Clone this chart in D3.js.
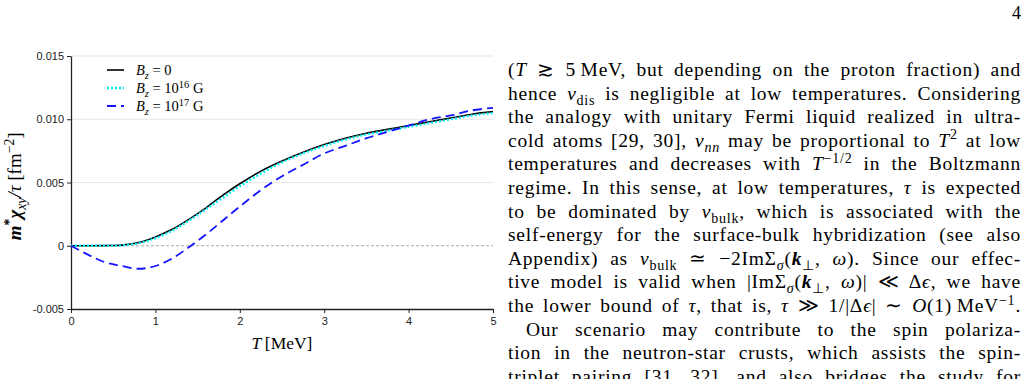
<!DOCTYPE html>
<html>
<head>
<meta charset="utf-8">
<script src="https://cdn.jsdelivr.net/npm/d3@7"></script>
<style>
body { margin: 0; background: #fff; }
svg { display: block; }
.tick text { font-family: "Liberation Sans", Arial, sans-serif; font-size: 11px; fill: #222; }
.serif { font-family: "Liberation Serif", "Times New Roman", serif; fill: #000; }
</style>
</head>
<body>
<svg width="1030" height="379"></svg>
<script>
// temperature grid [MeV] and m* chi_xy / tau [fm^-2]
var temps = [0, 0.2, 0.4, 0.6, 0.8, 1.0, 1.2, 1.4, 1.6, 1.8, 2.0, 2.25, 2.5, 2.75, 3.0, 3.25, 3.5, 3.75, 4.0, 4.25, 4.5, 4.75, 5.0];
var chiB0 = [0, 0, 0.00001, 0.00005, 0.00025, 0.0007, 0.0013, 0.0021, 0.0030, 0.0040, 0.0049, 0.0059, 0.0067, 0.0074, 0.0080, 0.0085, 0.0089, 0.0092, 0.0095, 0.0098, 0.0101, 0.0104, 0.0106];
var chiB16 = [0, 0, 0.000005, 0.00003, 0.0002, 0.0006, 0.0012, 0.0020, 0.0029, 0.0038, 0.0047, 0.0057, 0.0066, 0.0073, 0.0079, 0.0084, 0.0088, 0.0091, 0.0094, 0.0097, 0.0100, 0.0103, 0.0105];
var chiB17 = [0, -0.0007, -0.0013, -0.0016, -0.00182, -0.0016, -0.0010, -0.0001, 0.0009, 0.0020, 0.0031, 0.0044, 0.0055, 0.0064, 0.0073, 0.0079, 0.0085, 0.0090, 0.0095, 0.0100, 0.0103, 0.0107, 0.0109];

var xTicks = [0, 1, 2, 3, 4, 5];
var yTicks = [-0.005, 0, 0.005, 0.010, 0.015];
var yTickLabels = ["-0.005", "0", "0.005", "0.010", "0.015"];
var gridValues = [0.005, 0.010, 0.015];

var seriesNames = ["B0", "B16", "B17"];
var legendExp = [null, "16", "17"];

// body text of the page column (segments: [text, style])
var bodyLines = [
  [["(", ""], ["T", "i"], [" \u2273 5\u2009MeV, but depending on the proton fraction) and", ""]],
  [["hence ", ""], ["\u03bd", "i"], ["dis", "_"], [" is negligible at low temperatures. Considering", ""]],
  [["the analogy with unitary Fermi liquid realized in ultra-", ""]],
  [["cold atoms [29, 30], ", ""], ["\u03bd", "i"], ["nn", "_i"], [" may be proportional to ", ""], ["T", "i"], ["2", "^"], [" at low", ""]],
  [["temperatures and decreases with ", ""], ["T", "i"], ["\u22121/2", "^"], [" in the Boltzmann", ""]],
  [["regime. In this sense, at low temperatures, ", ""], ["\u03c4", "i"], [" is expected", ""]],
  [["to be dominated by ", ""], ["\u03bd", "i"], ["bulk", "_"], [", which is associated with the", ""]],
  [["self-energy for the surface-bulk hybridization (see also", ""]],
  [["Appendix) as ", ""], ["\u03bd", "i"], ["bulk", "_"], [" \u2243 \u22122Im\u03a3", ""], ["\u03c3", "_i"], ["(", ""], ["k", "bi"], ["\u22a5", "_"], [", ", ""], ["\u03c9", "i"], ["). Since our effec-", ""]],
  [["tive model is valid when |Im\u03a3", ""], ["\u03c3", "_i"], ["(", ""], ["k", "bi"], ["\u22a5", "_"], [", ", ""], ["\u03c9", "i"], [")| \u226a \u0394", ""], ["\u03f5", "i"], [", we have", ""]],
  [["the lower bound of ", ""], ["\u03c4", "i"], [", that is, ", ""], ["\u03c4", "i"], [" \u226b 1/|\u0394", ""], ["\u03f5", "i"], ["| \u223c ", ""], ["O", "i"], ["(1)\u2009MeV", ""], ["\u22121", "^"], [".", ""]],
  [["Our scenario may contribute to the spin polariza-", ""]],
  [["tion in the neutron-star crusts, which assists the spin-", ""]],
  [["triplet pairing [31, 32], and also bridges the study for", ""]]
];

var svg = d3.select("svg"),
    margin = {top: 56, left: 71, right: 537, bottom: 70},
    width = 1030 - margin.left - margin.right,
    height = 379 - margin.top - margin.bottom;

svg.append("rect").attr("width", 1030).attr("height", 379).attr("fill", "#fff");

var g = svg.append("g").attr("transform", "translate(" + margin.left + "," + margin.top + ")");

var x = d3.scaleLinear().domain([0, 5]).range([0, width]),
    y = d3.scaleLinear().domain([-0.005, 0.015]).range([height, 0]);

// draws a list of [text, style] segments into a text element
function rich(sel, segs, fs) {
  var off = 0;
  segs.forEach(function(s) {
    var st = s[1], t = sel.append("tspan").text(s[0]);
    var want = 0, size = fs;
    if (st.charAt(0) == "_") { want = 0.26 * fs; size = 0.72 * fs; }
    if (st.charAt(0) == "^") { want = -0.38 * fs; size = 0.72 * fs; }
    if (st.indexOf("i") >= 0) t.attr("font-style", "italic");
    if (st.indexOf("b") >= 0) t.attr("font-weight", "bold");
    t.attr("font-size", size);
    if (want != off) { t.attr("dy", want - off); off = want; }
  });
}

// grid lines
g.selectAll(".grid")
  .data(gridValues)
  .enter().append("line")
    .attr("x1", 0).attr("x2", width)
    .attr("y1", function(d) { return y(d); })
    .attr("y2", function(d) { return y(d); })
    .attr("stroke", "#e6e6e6")
    .attr("stroke-width", 1.2);

g.append("line")
  .attr("x1", 0).attr("x2", width)
  .attr("y1", y(0)).attr("y2", y(0))
  .attr("stroke", "#a8a8a8")
  .attr("stroke-width", 1)
  .attr("stroke-dasharray", "3,2");

g.append("g")
  .attr("transform", "translate(0," + height + ")")
  .call(d3.axisBottom(x).tickValues(xTicks).tickFormat(d3.format("d")).tickSize(4).tickSizeOuter(0).tickPadding(4))
  .call(function(a) { a.select(".domain").attr("stroke", "#222").attr("stroke-width", 1.3); a.selectAll(".tick line").attr("stroke", "#222"); });

g.append("g")
  .call(d3.axisLeft(y).tickValues(yTicks).tickFormat(function(d, i) { return yTickLabels[i]; }).tickSize(4).tickSizeOuter(0).tickPadding(3))
  .call(function(a) { a.select(".domain").attr("stroke", "#222").attr("stroke-width", 1.3); a.selectAll(".tick line").attr("stroke", "#222"); });

var line = d3.line()
  .curve(d3.curveCatmullRom.alpha(0.5))
  .x(function(d) { return x(d[0]); })
  .y(function(d) { return y(d[1]); });

var styles = {
  B0: {stroke: "#000", width: 1.6, dash: null},
  B16: {stroke: "#00eef5", width: 2.3, dash: "2,2"},
  B17: {stroke: "#1414ff", width: 1.8, dash: "9,5"}
};
var values = {B0: chiB0, B16: chiB16, B17: chiB17};

seriesNames.forEach(function(name) {
  var s = styles[name];
  g.append("path")
    .datum(temps.map(function(t, i) { return [t, values[name][i]]; }))
    .attr("fill", "none")
    .attr("stroke", s.stroke)
    .attr("stroke-width", s.width)
    .attr("stroke-dasharray", s.dash)
    .attr("d", line);
});

// legend
var legend = svg.append("g").attr("transform", "translate(107,70)");
seriesNames.forEach(function(name, i) {
  var s = styles[name], row = legend.append("g").attr("transform", "translate(0," + (i * 18) + ")");
  row.append("line")
    .attr("x1", 0).attr("x2", 17)
    .attr("stroke", s.stroke)
    .attr("stroke-width", s.width)
    .attr("stroke-dasharray", s.dash);
  var segs = [["B", "i"], ["z", "_i"], [" = ", ""]];
  if (legendExp[i]) segs = segs.concat([["10", ""], [legendExp[i], "^"], [" G", ""]]);
  else segs.push(["0", ""]);
  rich(row.append("text").attr("class", "serif").attr("x", 29).attr("y", 5), segs, 14.5);
});

// axis titles
rich(svg.append("text").attr("class", "serif")
  .attr("transform", "translate(21," + (margin.top + y(0.0047)) + ") rotate(-90)")
  .attr("text-anchor", "middle"),
  [["m", "bi"], ["*", "^b"], ["\u03c7", "bi"], ["xy", "_i"], ["/", "i"], ["\u03c4", "i"], [" [fm", ""], ["\u22122", "^"], ["]", ""]], 19);

rich(svg.append("text").attr("class", "serif")
  .attr("x", margin.left + x(2.5)).attr("y", 349)
  .attr("text-anchor", "middle"),
  [["T", "i"], ["\u2009[MeV]", ""]], 17.5);

// page number
svg.append("text").attr("class", "serif")
  .attr("x", 1021).attr("y", 19)
  .attr("text-anchor", "end")
  .attr("font-size", 18)
  .text("4");

// text column, justified with word spacing
var colLeft = 508, colRight = 1021, lineStep = 23.6, firstBase = 76;
bodyLines.forEach(function(segs, i) {
  var indent = i == 11 ? 18 : 0, target = colRight - colLeft - indent;
  var t = svg.append("text").attr("class", "serif")
    .attr("x", colLeft + indent)
    .attr("y", firstBase + i * lineStep)
    .attr("letter-spacing", 0.75);
  rich(t, segs, 19.5);
  var natural = t.node().getComputedTextLength();
  var spaces = segs.map(function(s) { return s[0]; }).join("").split(" ").length - 1;
  if (natural < target && spaces > 0) {
    t.attr("word-spacing", (target - natural) / spaces);
  } else {
    t.attr("textLength", target).attr("lengthAdjust", "spacing");
  }
});
</script>
</body>
</html>
